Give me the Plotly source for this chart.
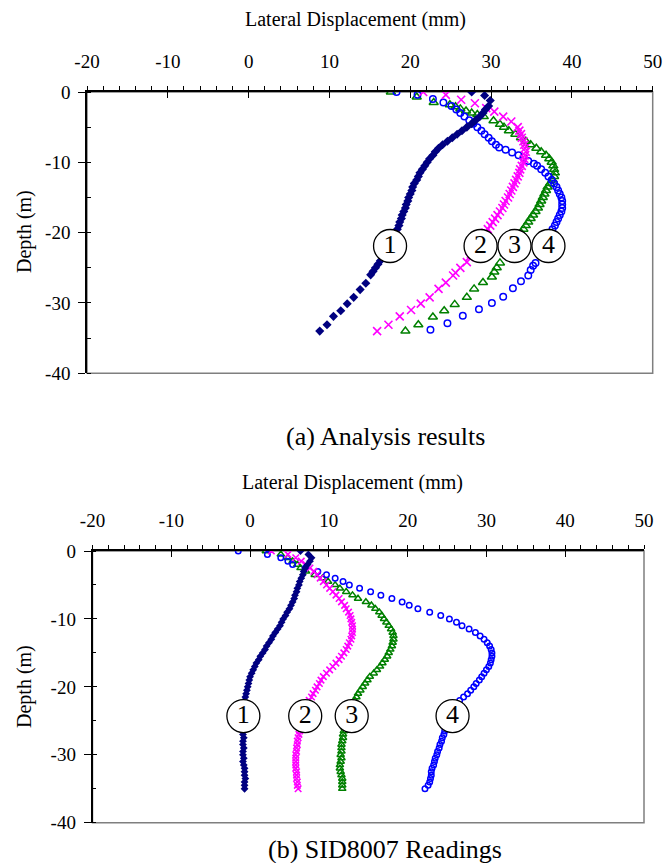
import plotly.graph_objects as go

# ---------------- data ----------------
x_tick_vals = [-20, -10, 0, 10, 20, 30, 40, 50]
y_tick_vals = [0, -10, -20, -30, -40]

# (a) Analysis results  -- curve 1 (navy diamonds)
ana1_depth = [0, -0.5, -1.2,
              -2.0, -2.5, -3.0, -3.5, -4.0, -4.5, -5.0, -5.5, -6.0, -6.5, -7.0, -7.5, -8.0, -8.5,
              -9.0, -9.5, -10.0, -10.5, -11.0, -11.5, -12.0, -12.5, -13.0, -13.5, -14.0, -14.5,
              -15.0, -15.5, -16.0, -16.5, -17.0, -17.5, -18.0, -18.5, -19.0, -19.5, -20.0, -20.5,
              -21.0, -21.5, -22.0, -22.5, -23.0, -23.5, -24.0, -24.5, -25.0, -25.5, -26.0,
              -27.2, -28.1, -29.2, -30.1, -31.1, -31.9, -33.1, -34.0]
ana1_disp = [27.6, 29.2, 29.9,
             29.7, 29.3, 29.0, 28.6, 28.1, 27.6, 27.0, 26.4, 25.8, 25.2, 24.6, 24.0, 23.5, 23.1,
             22.8, 22.4, 22.1, 21.8, 21.5, 21.2, 21.0, 20.8, 20.5, 20.3, 20.2, 20.0,
             19.8, 19.7, 19.5, 19.4, 19.2, 19.0, 18.9, 18.7, 18.6, 18.4, 18.2, 18.0,
             17.8, 17.6, 17.4, 17.1, 16.9, 16.6, 16.3, 16.0, 15.7, 15.4, 15.1,
             14.5, 13.8, 13.0, 12.2, 11.4, 10.5, 9.7, 8.8]

# curve 2 (magenta crosses)
ana2_depth = [0, -0.4, -1.1, -1.6, -2.3, -2.8, -3.5, -4.2, -5.0,
              -5.5, -6.0, -6.5, -7.0, -7.5, -8.0, -8.5, -9.0, -9.5, -10.0, -10.5, -11.0, -11.5,
              -12.0, -12.5, -13.0, -13.5, -14.0, -14.5, -15.0, -15.5, -16.0, -16.5, -17.0, -17.5,
              -18.0, -18.5, -19.0, -19.5, -20.0, -20.5, -21.0, -21.5, -22.0, -22.5, -23.0, -23.5,
              -24.2, -25.0, -25.7, -26.1, -27.1, -28.0, -29.2, -30.1, -31.0, -31.9, -33.1, -34.0]
ana2_disp = [21.6, 24.4, 26.3, 28.0, 29.4, 30.4, 31.5, 32.5, 33.3,
             33.5, 33.7, 33.8, 34.0, 34.1, 34.2, 34.3, 34.2, 34.1, 34.0, 33.8, 33.6, 33.5,
             33.3, 33.1, 32.9, 32.7, 32.5, 32.3, 32.1, 31.8, 31.6, 31.4, 31.1, 30.8,
             30.5, 30.2, 29.9, 29.6, 29.3, 29.0, 28.7, 28.4, 28.1, 27.8, 27.5, 27.3,
             27.0, 26.2, 25.6, 25.3, 24.4, 23.5, 22.4, 21.3, 20.1, 18.7, 17.3, 15.9]

# curve 3 (green triangles)
ana3_depth = [0, -0.7, -1.5,
              -1.8, -2.1, -2.4, -2.7, -3.0, -3.2,
              -3.5, -4.1, -4.6,
              -5.0, -5.5, -6.0, -6.5, -7.0, -7.5, -8.0, -8.5, -9.0, -9.5, -10.0, -10.5, -11.0,
              -11.5, -12.0, -12.5, -13.0, -13.5, -14.0, -14.5, -15.0, -15.5, -16.0, -16.5, -17.0,
              -17.5, -18.0, -18.5, -19.0, -19.5, -20.0, -20.5, -21.5, -23.0,
              -24.3, -25.0, -25.6, -26.3, -27.1, -28.0, -29.2, -30.2, -31.1, -32.0, -33.1, -34.0]
ana3_disp = [17.6, 20.8, 22.9,
             24.9, 25.6, 26.2, 26.9, 27.6, 28.3,
             29.1, 30.3, 31.1,
             31.6, 32.2, 33.0, 33.7, 34.3, 34.9, 35.6, 36.2, 36.8, 37.2, 37.5, 37.7, 37.8,
             37.9, 37.8, 37.6, 37.3, 37.0, 36.8, 36.6, 36.4, 36.2, 36.0, 35.8, 35.5,
             35.2, 34.9, 34.6, 34.3, 34.0, 33.7, 33.3, 32.6, 31.7,
             31.1, 30.7, 30.4, 30.1, 29.0, 27.9, 27.0, 25.5, 24.2, 22.8, 21.0, 19.4]

# curve 4 (blue circles)
ana4_depth = [0, -0.4, -1.0, -1.5,
              -2.0, -2.5, -3.0, -3.5, -4.0, -4.5, -5.0, -5.5, -6.0, -6.5, -7.0, -7.5,
              -7.9, -8.2, -8.6, -9.0, -9.3, -9.8, -10.2,
              -10.5, -11.0, -11.5, -12.0, -12.5, -13.0, -13.5, -14.0, -14.5, -15.0, -15.5,
              -16.0, -16.5, -17.0, -17.5, -18.0, -18.5, -19.0, -19.5, -20.0, -20.5, -21.5, -23.0,
              -24.3, -24.7, -25.3, -26.1, -26.9, -27.9, -29.1, -30.0, -30.9, -31.8, -32.9, -33.8]
ana4_disp = [18.3, 20.9, 22.8, 24.1,
             25.1, 25.7, 26.2, 26.7, 27.3, 27.8, 28.3, 28.8, 29.2, 29.7, 30.1, 30.6,
             31.0, 31.8, 32.6, 33.4, 34.0, 34.6, 35.3,
             35.7, 36.2, 36.7, 37.1, 37.5, 37.8, 38.1, 38.3, 38.5, 38.7, 38.8,
             38.8, 38.8, 38.7, 38.5, 38.3, 38.1, 37.9, 37.6, 37.3, 37.0, 36.5, 36.0,
             35.5, 35.2, 34.9, 34.6, 33.7, 32.7, 31.5, 30.1, 28.5, 26.5, 24.6, 22.5]

# (b) SID8007 readings (every 0.5 m)
sid_depth = [0, -0.5, -1.0, -1.5, -2.0, -2.5, -3.0, -3.5, -4.0, -4.5, -5.0, -5.5, -6.0, -6.5,
             -7.0, -7.5, -8.0, -8.5, -9.0, -9.5, -10.0, -10.5, -11.0, -11.5, -12.0, -12.5,
             -13.0, -13.5, -14.0, -14.5, -15.0, -15.5, -16.0, -16.5, -17.0, -17.5, -18.0,
             -18.5, -19.0, -19.5, -20.0, -20.5, -21.0, -21.5, -22.0, -22.5, -23.0, -23.5,
             -24.0, -24.5, -25.0, -25.5, -26.0, -26.5, -27.0, -27.5, -28.0, -28.5, -29.0,
             -29.5, -30.0, -30.5, -31.0, -31.5, -32.0, -32.5, -33.0, -33.5, -34.0, -34.5, -35.0]
sid1_disp = [6.4, 7.4, 7.8, 7.6, 7.3, 7.0, 6.8, 6.7, 6.5, 6.3, 6.2, 6.0, 5.9, 5.7,
             5.6, 5.4, 5.2, 5.0, 4.7, 4.5, 4.2, 4.0, 3.8, 3.5, 3.2, 2.9,
             2.7, 2.4, 2.1, 1.9, 1.6, 1.3, 1.1, 0.8, 0.6, 0.4, 0.2,
             0.0, -0.1, -0.2, -0.3, -0.4, -0.5, -0.6, -0.7, -0.8, -0.8, -0.8,
             -0.9, -0.9, -0.9, -0.9, -0.9, -0.9, -0.9, -0.8, -0.9, -0.9, -0.8,
             -0.9, -0.9, -0.8, -0.9, -0.8, -0.7, -0.7, -0.7, -0.6, -0.7, -0.7, -0.7]
sid2_disp = [2.7, 4.8, 5.8, 6.5, 7.1, 7.6, 8.1, 8.5, 8.9, 9.3, 9.7, 10.1, 10.5, 10.9,
             11.3, 11.6, 12.0, 12.2, 12.5, 12.7, 12.8, 12.9, 13.0, 13.0, 13.0, 12.9,
             12.8, 12.6, 12.4, 12.2, 11.9, 11.6, 11.3, 10.9, 10.5, 10.1, 9.7,
             9.3, 9.0, 8.8, 8.5, 8.3, 8.0, 7.8, 7.5, 7.3, 7.1, 6.9,
             6.8, 6.7, 6.5, 6.4, 6.3, 6.3, 6.2, 6.1, 6.0, 6.0, 5.9,
             5.9, 5.8, 5.8, 5.8, 5.8, 5.8, 5.9, 5.9, 5.9, 6.0, 6.0, 6.1]
sid3_disp = [2.0, 3.9, 4.8, 5.4, 6.0, 6.4, 7.1, 8.2, 9.2, 9.9, 10.8, 11.4, 12.2, 13.0,
             13.7, 14.7, 15.4, 15.9, 16.4, 16.7, 17.0, 17.3, 17.6, 17.9, 18.1, 18.2,
             18.2, 18.1, 18.0, 17.8, 17.6, 17.4, 17.1, 16.8, 16.5, 16.1, 15.7,
             15.2, 14.9, 14.6, 14.3, 14.0, 13.7, 13.5, 13.3, 13.0, 12.8, 12.6,
             12.4, 12.3, 12.2, 12.1, 12.0, 11.9, 11.8, 11.8, 11.7, 11.6, 11.6,
             11.6, 11.5, 11.6, 11.5, 11.4, 11.4, 11.5, 11.6, 11.7, 11.7, 11.7, 11.7]
sid4_disp = [-1.5, 2.2, 3.9, 4.8, 5.4, 7.0, 8.6, 9.7, 10.8, 11.8, 12.6, 13.9, 15.3, 16.6,
             18.0, 19.3, 20.2, 21.3, 22.8, 24.2, 25.3, 26.2, 26.9, 27.8, 28.6, 29.2,
             29.7, 30.1, 30.4, 30.6, 30.7, 30.7, 30.6, 30.5, 30.3, 30.0, 29.7,
             29.4, 29.1, 28.7, 28.4, 28.0, 27.6, 27.1, 26.6, 26.3, 26.0, 25.7,
             25.5, 25.3, 25.1, 25.0, 24.8, 24.7, 24.6, 24.4, 24.3, 24.1, 24.0,
             23.8, 23.7, 23.5, 23.4, 23.3, 23.1, 23.0, 23.0, 22.9, 22.8, 22.6, 22.2]

label_text = ["1", "2", "3", "4"]
ana_label_disp = [17.5, 28.7, 32.9, 37.1]
ana_label_depth = [-21.9, -21.9, -21.9, -21.9]
sid_label_disp = [-0.85, 7.0, 12.9, 25.7]
sid_label_depth = [-24.3, -24.3, -24.3, -24.3]

# ---------------- styling ----------------
FONT = "Liberation Serif, Times New Roman, serif"
NAVY, MAGENTA, GREEN, BLUE = "#000080", "#FF00FF", "#008000", "#0000FF"


def style(kind, big):
    if kind == 1:
        return dict(symbol="diamond", size=7 if big else 6, color=NAVY, line=dict(width=0))
    if kind == 2:
        return dict(symbol="x-thin", size=8 if big else 6.5, color=MAGENTA,
                    line=dict(color=MAGENTA, width=1.6))
    if kind == 3:
        return dict(symbol="triangle-up-open", size=8 if big else 6.5, color=GREEN,
                    line=dict(color=GREEN, width=1.5))
    return dict(symbol="circle-open", size=6.5 if big else 5.5, color=BLUE,
                line=dict(color=BLUE, width=1.5))


fig = go.Figure()

top_series = [(3, ana3_disp, ana3_depth), (4, ana4_disp, ana4_depth),
              (2, ana2_disp, ana2_depth), (1, ana1_disp, ana1_depth)]
for kind, xs, ys in top_series:
    fig.add_trace(go.Scatter(x=xs, y=ys, mode="markers", marker=style(kind, True),
                             xaxis="x", yaxis="y", showlegend=False, hoverinfo="skip"))

bot_series = [(3, sid3_disp), (4, sid4_disp), (2, sid2_disp), (1, sid1_disp)]
for kind, xs in bot_series:
    fig.add_trace(go.Scatter(x=xs, y=sid_depth, mode="markers", marker=style(kind, False),
                             xaxis="x2", yaxis="y2", showlegend=False, hoverinfo="skip"))

label_marker = dict(symbol="circle", size=33, color="white", line=dict(color="black", width=1.3))
fig.add_trace(go.Scatter(x=ana_label_disp, y=ana_label_depth, mode="markers+text",
                         text=label_text, textposition="middle center",
                         textfont=dict(family=FONT, size=26, color="black"),
                         marker=label_marker, xaxis="x", yaxis="y",
                         showlegend=False, hoverinfo="skip"))
fig.add_trace(go.Scatter(x=sid_label_disp, y=sid_label_depth, mode="markers+text",
                         text=label_text, textposition="middle center",
                         textfont=dict(family=FONT, size=26, color="black"),
                         marker=label_marker, xaxis="x2", yaxis="y2",
                         showlegend=False, hoverinfo="skip"))

# dummy traces so the overlay (inner tick) axes are drawn
for xa, ya in (("x3", "y3"), ("x4", "y4")):
    fig.add_trace(go.Scatter(x=[None], y=[None], xaxis=xa, yaxis=ya,
                             showlegend=False, hoverinfo="skip"))

tickfont = dict(family=FONT, size=19, color="black")
x_ticktext = [str(v) for v in x_tick_vals]
y_ticktext = [str(v) for v in y_tick_vals]


def main_x(domain, anchor):
    return dict(domain=domain, anchor=anchor, side="top", range=[-20, 50],
                tickmode="array", tickvals=x_tick_vals, ticktext=x_ticktext,
                ticks="outside", ticklen=4, tickwidth=1.2, tickcolor="black",
                minor=dict(tickmode="linear", tick0=-20, dtick=2, ticks="outside",
                           ticklen=4, tickwidth=1, tickcolor="black"),
                showline=True, linecolor="black", linewidth=1.5,
                showgrid=False, zeroline=False, tickfont=tickfont,
                ticklabelstandoff=11, fixedrange=True, automargin=False)


def main_y(domain, anchor):
    return dict(domain=domain, anchor=anchor, range=[-40, 0],
                tickmode="array", tickvals=y_tick_vals, ticktext=y_ticktext,
                ticks="outside", ticklen=7, tickwidth=1.2, tickcolor="black",
                minor=dict(tickmode="linear", tick0=0, dtick=5, ticks="inside",
                           ticklen=4, tickwidth=1, tickcolor="black"),
                showline=True, linecolor="black", linewidth=1.5,
                showgrid=False, zeroline=False, tickfont=tickfont,
                ticklabelstandoff=4, fixedrange=True, automargin=False)


def inner_x(over, anchor):
    return dict(overlaying=over, anchor=anchor, side="top", range=[-20, 50],
                tickmode="array", tickvals=x_tick_vals, ticks="inside", ticklen=6,
                tickwidth=1.2, tickcolor="black", showticklabels=False,
                showline=False, showgrid=False, zeroline=False, fixedrange=True,
                automargin=False)


def inner_y(over, anchor):
    return dict(overlaying=over, anchor=anchor, range=[-40, 0],
                tickmode="array", tickvals=y_tick_vals, ticks="inside", ticklen=4,
                tickwidth=1.2, tickcolor="black", showticklabels=False,
                showline=False, showgrid=False, zeroline=False, fixedrange=True,
                automargin=False)


W, H = 664, 863
top_xdom = [87 / W, 652.7 / W]
top_ydom = [1 - 373.3 / H, 1 - 92 / H]
bot_xdom = [92.5 / W, 644 / W]
bot_ydom = [1 - 822.7 / H, 1 - 551 / H]

fig.update_layout(
    width=W, height=H, margin=dict(l=0, r=0, t=0, b=0),
    paper_bgcolor="white", plot_bgcolor="white",
    xaxis=main_x(top_xdom, "y"), yaxis=main_y(top_ydom, "x"),
    xaxis2=main_x(bot_xdom, "y2"), yaxis2=main_y(bot_ydom, "x2"),
    xaxis3=inner_x("x", "y3"), yaxis3=inner_y("y", "x3"),
    xaxis4=inner_x("x2", "y4"), yaxis4=inner_y("y2", "x4"),
    font=dict(family=FONT, color="black"),
)

box = dict(type="rect", x0=0, x1=1, y0=0, y1=1, layer="below",
           line=dict(color="#7f7f7f", width=1.5))
fig.add_shape(xref="x domain", yref="y domain", **box)
fig.add_shape(xref="x2 domain", yref="y2 domain", **box)

ann = [
    ("Lateral Displacement (mm)", 355, 20, 20, 0),
    ("Depth (m)", 24, 232, 20, -90),
    ("(a) Analysis results", 385, 437, 26, 0),
    ("Lateral Displacement (mm)", 352, 482, 20, 0),
    ("Depth (m)", 24, 687, 20, -90),
    ("(b) SID8007 Readings", 385, 849, 26, 0),
]
for text, px, py, size, ang in ann:
    fig.add_annotation(text=text, x=px / W, y=1 - py / H, xref="paper", yref="paper",
                       xanchor="center", yanchor="middle", showarrow=False,
                       textangle=ang, font=dict(family=FONT, size=size, color="black"))

fig.write_html("out.html")
